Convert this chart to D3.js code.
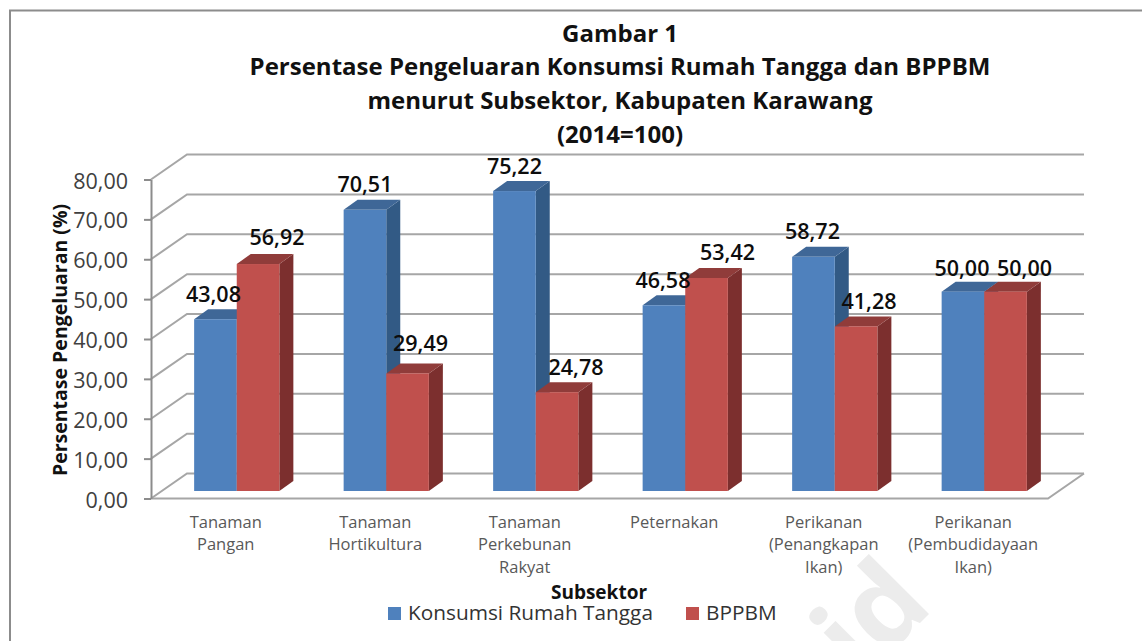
<!DOCTYPE html>
<html>
<head>
<meta charset="utf-8">
<script src="https://cdn.jsdelivr.net/npm/d3@7"></script>
<style>
	body { margin: 0; background: #fff; }
	svg { display: block; }
	text { font-family: "Open Sans", sans-serif; }
</style>
</head>
<body>
<div id="chart"></div>
<script>
//chart data
const categories = ["Tanaman|Pangan", "Tanaman|Hortikultura", "Tanaman|Perkebunan|Rakyat", "Peternakan", "Perikanan|(Penangkapan|Ikan)", "Perikanan|(Pembudidayaan|Ikan)"];
const seriesNames = ["Konsumsi Rumah Tangga", "BPPBM"];
const konsumsi = [43.08, 70.51, 75.22, 46.58, 58.72, 50.00];
const bppbm = [56.92, 29.49, 24.78, 53.42, 41.28, 50.00];
const yTicks = [0, 10, 20, 30, 40, 50, 60, 70, 80];
const titleLines = ["Gambar 1", "Persentase Pengeluaran Konsumsi Rumah Tangga dan BPPBM", "menurut Subsektor, Kabupaten Karawang", "(2014=100)"];

//label nudges, the source chart has them placed by hand
const nudgeX = [[-2, 0, 0, -1, -1, -1], [19, 13, 19, 21, 13, 19]];
const nudgeY = [[0, 0, 0, 0, 0, 2], [-2, -5, 0, -1, 0, 2]];

//colours: front, top, side
const colors = [["#4f81bd", "#3f6797", "#325a85"], ["#c0504d", "#903c3a", "#7c2f2e"]];

//define chart constants
const width = 1142, height = 641;
const backX = 36, backY = -25;      //depth of the plot box
const floorX = 11, floorY = -7.5;   //where the bars stand on the floor
const barX = 14, barY = -10;        //depth of each bar

const svg = d3.select("#chart").append("svg")
	.attr("width", width)
	.attr("height", height);

//define scales
const x = d3.scaleBand().domain(categories).range([151, 1048]).paddingInner(0.43).paddingOuter(0.215);
const xs = d3.scaleBand().domain(seriesNames).range([0, x.bandwidth()]);
const y = d3.scaleLinear().domain([0, 80]).range([498.5, 179.5]);

//faint watermark behind the chart
svg.append("text")
	.attr("transform", "translate(898,645) rotate(-45)")
	.attr("text-anchor", "middle")
	.style("font-size", "112px")
	.style("font-weight", 700)
	.style("fill", "#ececec")
	.text("id");

//outer frame, runs off the right and bottom of the picture
svg.append("path")
	.attr("d", "M10," + height + "V10.5H" + width)
	.attr("fill", "none")
	.attr("stroke", "#8c8c8c")
	.attr("stroke-width", 2);

//title
svg.append("g").selectAll("text")
	.data(titleLines)
	.enter().append("text")
	.attr("x", 620)
	.attr("y", (d, i) => [42, 75, 109, 143][i])
	.attr("text-anchor", "middle")
	.style("font-size", "24px")
	.style("font-weight", 700)
	.style("fill", "#111")
	.text(d => d);

//gridlines on back wall and left wall
const grid = svg.append("g").attr("fill", "none").attr("stroke", "#a6a6a6").attr("stroke-width", 2);
grid.selectAll("path")
	.data(yTicks)
	.enter().append("path")
	.attr("d", d => "M151," + y(d) + "L" + (151 + backX) + "," + (y(d) + backY) + "H" + (1048 + backX));
//floor front edge
grid.append("path")
	.attr("d", "M151," + y(0) + "H1048L" + (1048 + backX) + "," + (y(0) + backY));

//y axis
const yAxis = svg.append("g")
	.attr("transform", "translate(151,0)")
	.call(d3.axisLeft(y).tickValues(yTicks).tickSize(7).tickPadding(16).tickSizeOuter(0)
		.tickFormat(d => d3.format(".2f")(d).replace(".", ",")));
yAxis.selectAll("path, line").attr("stroke", "#8c8c8c").attr("stroke-width", 2);
yAxis.selectAll("text")
	.attr("dy", "0.4em")
	.style("font-size", "21.5px")
	.style("fill", "#404040")
	.style("font-family", "\"Open Sans\", sans-serif");

//x axis labels, one tspan per line
const xAxis = svg.append("g")
	.attr("transform", "translate(0," + y(0) + ")")
	.call(d3.axisBottom(x).tickSize(0));
xAxis.select(".domain").remove();
xAxis.selectAll("text")
	.text(null)
	.style("font-size", "16.5px")
	.style("fill", "#595959")
	.style("font-family", "\"Open Sans\", sans-serif")
	.selectAll("tspan")
	.data(d => d.split("|"))
	.enter().append("tspan")
	.attr("x", 0)
	.attr("y", (d, i) => 29 + i * 22.5)
	.attr("dy", 0)
	.text(d => d);

//bars, blue first so the red ones sit over them
[konsumsi, bppbm].forEach(function(values, s) {
	const g = svg.append("g").attr("transform", "translate(" + floorX + "," + floorY + ")");
	const bars = g.selectAll("g")
		.data(categories.map((c, i) => ({c: c, v: values[i]})))
		.enter().append("g");
	const left = d => x(d.c) + xs(seriesNames[s]);
	const right = d => left(d) + xs.bandwidth();

	bars.append("path")   //side
		.attr("fill", colors[s][2])
		.attr("d", d => "M" + right(d) + "," + y(d.v) + "l" + barX + "," + barY + "V" + (y(0) + barY) + "l" + (-barX) + "," + (-barY) + "Z");
	bars.append("path")   //top
		.attr("fill", colors[s][1])
		.attr("d", d => "M" + left(d) + "," + y(d.v) + "l" + barX + "," + barY + "H" + (right(d) + barX) + "l" + (-barX) + "," + (-barY) + "Z");
	bars.append("rect")   //front
		.attr("fill", colors[s][0])
		.attr("x", left)
		.attr("y", d => y(d.v))
		.attr("width", xs.bandwidth())
		.attr("height", d => y(0) - y(d.v));
});

//value labels go on top of every bar
[konsumsi, bppbm].forEach(function(values, s) {
	svg.append("g").selectAll("text")
		.data(values)
		.enter().append("text")
		.attr("x", (d, i) => x(categories[i]) + xs(seriesNames[s]) + xs.bandwidth() / 2 + floorX + nudgeX[s][i])
		.attr("y", (d, i) => y(d) + floorY - 25 + nudgeY[s][i])
		.attr("dy", "0.35em")
		.attr("text-anchor", "middle")
		.style("font-size", "21.5px")
		.style("font-weight", 600)
		.style("fill", "#0d0d0d")
		.text(d => d3.format(".2f")(d).replace(".", ","));
});

//axis titles
svg.append("text")
	.attr("transform", "translate(67,340) rotate(-90)")
	.attr("text-anchor", "middle")
	.style("font-size", "19.5px")
	.style("font-weight", 700)
	.style("fill", "#111")
	.text("Persentase Pengeluaran (%)");
svg.append("text")
	.attr("x", 599)
	.attr("y", 599)
	.attr("text-anchor", "middle")
	.style("font-size", "19px")
	.style("font-weight", 700)
	.style("fill", "#111")
	.text("Subsektor");

//legend
const legend = svg.append("g").selectAll("g")
	.data(seriesNames)
	.enter().append("g")
	.attr("transform", (d, i) => "translate(" + [388, 686][i] + ",607)");
legend.append("rect")
	.attr("width", 13)
	.attr("height", 13)
	.attr("fill", (d, i) => colors[i][0]);
legend.append("text")
	.attr("x", 20)
	.attr("y", 13)
	.style("font-size", "20.8px")
	.style("fill", "#333")
	.text(d => d);
</script>
</body>
</html>
